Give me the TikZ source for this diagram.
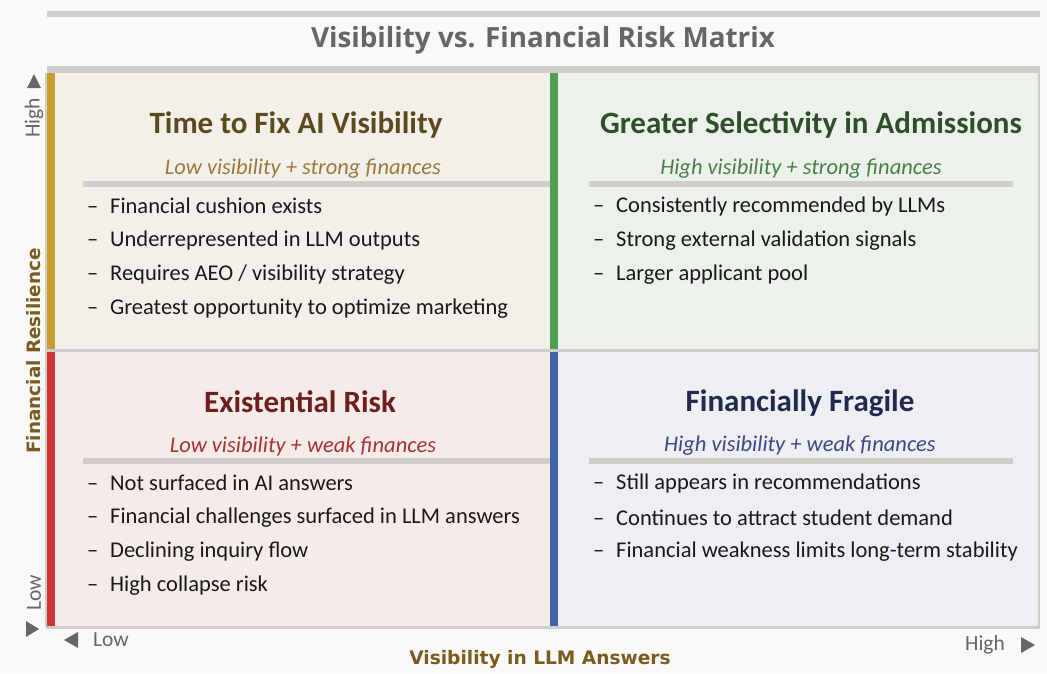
\documentclass[tikz,border=0pt]{standalone}
\usepackage{fontspec}
\setmainfont{Carlito}
\newfontfamily\titlefont{Open Sans}
\newfontfamily\axisfont{DejaVu Sans}
\usepackage{tikz}

\definecolor{pagebg}{HTML}{F9F9F7}
\definecolor{rulegray}{HTML}{D0CEC8}
\definecolor{tlfill}{HTML}{F3F0EA}
\definecolor{trfill}{HTML}{EDF1EC}
\definecolor{blfill}{HTML}{F5ECEA}
\definecolor{brfill}{HTML}{EEEFF3}
\definecolor{tlbar}{HTML}{C9A030}
\definecolor{trbar}{HTML}{4EA050}
\definecolor{blbar}{HTML}{D03535}
\definecolor{brbar}{HTML}{3F62A8}
\definecolor{tlhead}{HTML}{5C4A1E}
\definecolor{trhead}{HTML}{2E4F2A}
\definecolor{blhead}{HTML}{6E1E1E}
\definecolor{brhead}{HTML}{1F2A4D}
\definecolor{tlsub}{HTML}{9A7A3A}
\definecolor{trsub}{HTML}{4A7F45}
\definecolor{blsub}{HTML}{A83232}
\definecolor{brsub}{HTML}{3D4885}
\definecolor{axisbrown}{HTML}{7A5C20}
\definecolor{axisgray}{HTML}{666666}

\tikzset{
  quadhead/.style={font=\fontsize{31}{36}\selectfont\bfseries},
  quadsub/.style={font=\fontsize{22.5}{26}\selectfont\itshape},
  bulletline/.style={anchor=west, inner sep=0pt, font=\fontsize{22.5}{26}\selectfont, text=black!90},
  sepline/.style={rulegray, line width=6pt},
  ticklabel/.style={font=\fontsize{21.5}{25}\selectfont, text=axisgray},
}

\begin{document}
\begin{tikzpicture}[x=1pt,y=-1pt]
    \fill[pagebg] (0,0) rectangle (1047,673);
    \useasboundingbox (0,0) rectangle (1047,673);

    % title with rules
    \fill[rulegray] (47,11) rectangle (1040,17);
    \node (title) [font=\titlefont\fontsize{27.8}{32}\selectfont\bfseries, text=axisgray] at (543,40) {Visibility vs. Financial Risk Matrix};

    % quadrant backgrounds
    \fill[tlfill] (47,73) rectangle (554,349);
    \fill[trfill] (554,73) rectangle (1040,349);
    \fill[blfill] (47,349) rectangle (554,627);
    \fill[brfill] (554,349) rectangle (1040,627);

    % outline and middle rule
    \fill[rulegray] (47,66) rectangle (1040,73);
    \fill[rulegray] (47,349) rectangle (1040,351.5);
    \draw[rulegray, line width=2pt] (1039,73) -- (1039,627);
    \draw[rulegray, line width=3pt] (46,627) -- (1040,627);
    \draw[rulegray, line width=2pt] (46,73) -- (46,627);

    % colour bars
    \fill[tlbar] (47,73) rectangle (55,349);
    \fill[blbar] (47,351.5) rectangle (55,626);
    \fill[trbar] (550,73) rectangle (558,349);
    \fill[brbar] (550,351.5) rectangle (558,626);

    % Time to Fix AI Visibility
    \node (tlTitle) [quadhead, text=tlhead] at (296,125) {Time to Fix AI Visibility};
    \node (tlSub) [quadsub, text=tlsub] at (303,169) {Low visibility + strong finances};
    \draw[sepline] (83,184) -- (550,184);
    \foreach \txt [count=\i] in {Financial cushion exists, Underrepresented in LLM outputs, Requires AEO / visibility strategy, Greatest opportunity to optimize marketing}
        \node (tlItem\i) [bulletline] at (87,{206+34.3*(\i-1)}) {\makebox[23pt][l]{–}\txt};

    % Greater Selectivity in Admissions
    \node (trTitle) [quadhead, text=trhead] at (811,125) {Greater Selectivity in Admissions};
    \node (trSub) [quadsub, text=trsub] at (801,169) {High visibility + strong finances};
    \draw[sepline] (589,184) -- (1013,184);
    \foreach \txt [count=\i] in {Consistently recommended by LLMs, Strong external validation signals, Larger applicant pool}
        \node (trItem\i) [bulletline] at (593,{206+34.3*(\i-1)}) {\makebox[23pt][l]{–}\txt};

    % Existential Risk
    \node (blTitle) [quadhead, text=blhead] at (300,402) {Existential Risk};
    \node (blSub) [quadsub, text=blsub] at (303,446) {Low visibility + weak finances};
    \draw[sepline] (83,461) -- (550,461);
    \foreach \txt [count=\i] in {Not surfaced in AI answers, Financial challenges surfaced in LLM answers, Declining inquiry flow, High collapse risk}
        \node (blItem\i) [bulletline] at (87,{483+34.3*(\i-1)}) {\makebox[23pt][l]{–}\txt};

    % Financially Fragile
    \node (brTitle) [quadhead, text=brhead] at (800,403) {Financially Fragile};
    \node (brSub) [quadsub, text=brsub] at (800,446) {High visibility + weak finances};
    \draw[sepline] (589,461) -- (1013,461);
    \foreach \txt [count=\i] in {Still appears in recommendations, Continues to attract student demand, Financial weakness limits long-term stability}
        \node (brItem\i) [bulletline] at (593,{483+34.3*(\i-1)}) {\makebox[23pt][l]{–}\txt};

    % vertical axis
    \node (yAxis) [rotate=90, font=\axisfont\fontsize{18.4}{22}\selectfont\bfseries, text=axisbrown] at (34,351) {Financial Resilience};
    \node (yHigh) [rotate=90, ticklabel] at (34,118) {High};
    \node (yLow) [rotate=90, ticklabel] at (34,593) {Low};
    \fill[axisgray] (27,88) -- (41,88) -- (34,74) -- cycle;
    \fill[axisgray] (26,621) -- (26,637) -- (39,629) -- cycle;

    % horizontal axis
    \node (xLow) [ticklabel] at (111,640) {Low};
    \node (xHigh) [ticklabel] at (985,645) {High};
    \fill[axisgray] (78,632) -- (78,648) -- (64,640) -- cycle;
    \fill[axisgray] (1021,637) -- (1021,653) -- (1035,645) -- cycle;
    \node (xAxis) [font=\axisfont\fontsize{18.6}{22}\selectfont\bfseries, text=axisbrown] at (540,659) {Visibility in LLM Answers};
\end{tikzpicture}
\end{document}
